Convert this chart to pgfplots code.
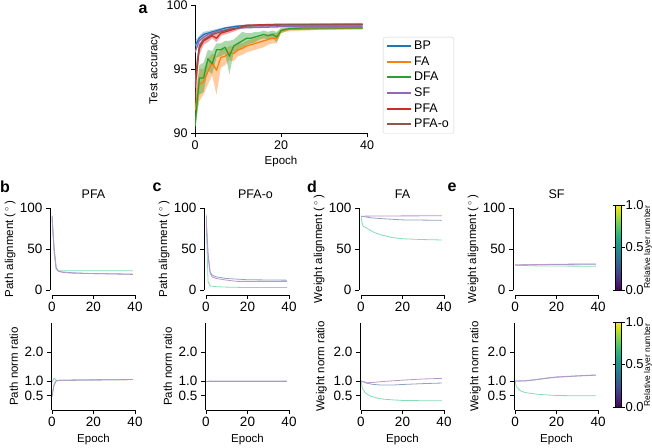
\documentclass[border=0pt]{standalone}
\usepackage{fontspec}
\setmainfont{Liberation Sans}
\usepackage{pgfplots}
\pgfplotsset{compat=1.18}
\pgfkeys{/pgf/number format/assume math mode=true}

\definecolor{cBP}{HTML}{1F77B4}
\definecolor{cFA}{HTML}{FF7F0E}
\definecolor{cDFA}{HTML}{2CA02C}
\definecolor{cSF}{HTML}{9467BD}
\definecolor{cPFA}{HTML}{D62728}
\definecolor{cPFAo}{HTML}{8C564B}
\definecolor{lpur}{RGB}{190,150,205}
\definecolor{lblu}{RGB}{140,165,195}
\definecolor{lgrn}{RGB}{130,220,180}

\newcommand{\fs}[1]{\fontsize{#1bp}{#1bp}\selectfont}

\pgfplotsset{
  panel/.style={
    scale only axis, anchor=south west,
    axis lines=left,
    axis line style={-, line width=0.9bp},
    every outer x axis line/.append style={-},
    every outer y axis line/.append style={-},
    tick align=outside, major tick length=4bp,
    every tick/.style={black, line width=0.9bp},
    tick label style={font=\fs{13.5}},
    label style={font=\fs{11.5}},
    title style={font=\fs{12.5}},
  },
  small/.style={panel, width=83bp, xmin=0, xmax=40, xtick={0,20,40},
    every axis plot/.append style={line width=0.8bp, line join=round}},
  toprow/.style={small, height=82bp, ymin=0, ymax=100, ytick={0,50,100},
    axis x line shift=5bp, axis y line shift=2bp, ylabel shift=-2.5bp},
  botrow/.style={small, height=87bp, ymin=0, ymax=3, ytick={0.5,1,2},
    yticklabel style={/pgf/number format/.cd, fixed, fixed zerofill, precision=1},
    axis y line shift=1bp, xlabel={Epoch}},
  cbar/.style={
    point meta min=0, point meta max=1, colormap/viridis, colorbar,
    colorbar style={
      at={(parent axis.south east)}, anchor=south west, xshift=9bp, yshift=#1,
      scale only axis, width=6bp, height=85bp,
      ytick={0,0.5,1},
      yticklabel style={font=\fs{13}, xshift=-2.5bp,
        /pgf/number format/.cd, fixed, fixed zerofill, precision=1},
      yticklabel pos=right,
      tick align=outside, major tick length=3bp,
      every tick/.style={black, line width=0.8bp},
      axis line style={line width=0.6bp},
    }},
}

\begin{document}
\begin{tikzpicture}
\useasboundingbox (0,0) rectangle (652bp,448bp);

% ---------- a: test accuracy ----------
\begin{axis}[panel, at={(195bp,315bp)}, width=172bp, height=128bp,
  xmin=0, xmax=40, ymin=90, ymax=100, xtick={0,20,40}, ytick={90,95,100},
  tick label style={font=\fs{12.5}},
  xlabel={Epoch}, ylabel={Test accuracy},
  every axis plot/.append style={line width=1.3bp, line join=round},
  legend cell align=left,
  legend style={at={(1.093,0.75)}, anchor=north west, draw=black!18,
    rounded corners=2bp, font=\fs{12.5}, row sep=1.5bp, inner xsep=3bp, inner ysep=2bp},
  legend image code/.code={\draw[#1, line width=2bp] (0bp,0bp) -- (24bp,0bp);},
]
% bands
\addplot[forget plot, draw=none, fill=cFA, fill opacity=0.4] coordinates {
  (0,93.0)(1,95.0)(2,95.0)(3,95.8)(4,96.2)(5,96.0)(6,96.6)(7,96.6)(8,96.8)(9,96.8)
  (10,97.0)(11,97.0)(12,97.2)(13,97.3)(14,97.4)(15,97.5)(16,97.6)(17,97.7)(18,97.8)(19,97.8)
  (20,98.1)(21,98.15)(22,98.2)(25,98.2)(30,98.25)(39,98.3)
  (39,98.1)(30,98.05)(25,98.0)(22,97.95)(21,97.9)(20,97.8)(19,97.0)(18,97.0)(17,96.9)(16,96.7)
  (15,96.6)(14,96.5)(13,96.4)(12,96.3)(11,96.1)(10,96.0)(9,95.6)(8,95.7)(7,95.3)(6,95.1)
  (5,93.0)(4,94.5)(3,93.8)(2,93.0)(1,92.5)(0,90.5)};
\addplot[forget plot, draw=none, fill=cDFA, fill opacity=0.4] coordinates {
  (0,92)(1,95.3)(2,95.5)(3,96.5)(4,96.4)(5,97.0)(6,97.0)(7,97.2)(8,97.2)(9,97.3)
  (10,97.6)(11,97.9)(12,97.8)(13,97.8)(14,97.9)(15,97.9)(16,98.0)(17,97.9)(18,98.0)(19,97.9)
  (20,98.2)(22,98.25)(25,98.3)(39,98.3)
  (39,98.1)(25,98.1)(22,98.05)(20,97.8)(19,97.1)(18,97.4)(17,97.3)(16,97.4)(15,97.3)(14,97.1)
  (13,97.0)(12,96.9)(11,96.6)(10,96.4)(9,96.3)(8,94.6)(7,96.2)(6,96.0)(5,95.9)(4,94.6)
  (3,94.9)(2,93.2)(1,93.0)(0,90)};
\addplot[forget plot, draw=none, fill=cPFA, fill opacity=0.4] coordinates {
  (0,95)(1,97.0)(2,97.5)(3,97.7)(4,97.8)(5,97.7)(6,98.0)(8,98.2)(10,98.35)(12,98.5)(39,98.6)
  (39,98.4)(12,98.3)(10,98.05)(8,97.8)(6,97.6)(5,97.1)(4,97.4)(3,97.1)(2,96.9)(1,96.1)(0,92)};
\addplot[forget plot, draw=none, fill=cBP, fill opacity=0.35] coordinates {
  (0,97.2)(1,97.6)(2,97.9)(4,98.05)(6,98.2)(8,98.35)(10,98.45)(39,98.55)
  (39,98.35)(10,98.25)(8,98.15)(6,98.0)(4,97.75)(2,97.5)(1,97.2)(0,96.4)};
% lines
\addplot[cBP] coordinates {(0,96.8)(1,97.4)(2,97.7)(3,97.8)(4,97.9)(5,98.0)(6,98.1)(7,98.2)(8,98.25)(9,98.3)(10,98.35)(12,98.4)(15,98.4)(20,98.45)(39,98.45)};
\addplot[cFA] coordinates {(0,91.8)(1,93.8)(2,94.0)(3,94.8)(4,95.5)(5,94.9)(6,95.9)(7,96.0)(8,96.3)(9,96.2)(10,96.5)(11,96.6)(12,96.8)(13,96.9)(14,97.0)(15,97.1)(16,97.2)(17,97.3)(18,97.4)(19,97.4)(20,98.0)(21,98.05)(22,98.1)(25,98.1)(30,98.15)(39,98.2)};
\addplot[cDFA] coordinates {(0,90.5)(1,94.3)(2,94.3)(3,95.8)(4,95.4)(5,96.5)(6,96.5)(7,96.7)(8,96.0)(9,96.8)(10,97.0)(11,97.2)(12,97.4)(13,97.4)(14,97.5)(15,97.6)(16,97.7)(17,97.6)(18,97.7)(19,97.5)(20,98.0)(21,98.1)(22,98.15)(25,98.2)(39,98.2)};
\addplot[cSF] coordinates {(0,96.3)(1,97.2)(2,97.5)(3,97.7)(4,97.8)(5,97.9)(6,98.0)(8,98.1)(10,98.2)(15,98.25)(20,98.3)(39,98.3)};
\addplot[cPFA] coordinates {(0,93.5)(1,96.6)(2,97.2)(3,97.4)(4,97.6)(5,97.4)(6,97.8)(7,97.9)(8,98.0)(9,98.1)(10,98.2)(11,98.3)(12,98.4)(15,98.45)(20,98.5)(39,98.5)};
\addplot[cPFAo] coordinates {(0,94.0)(1,96.8)(2,97.3)(3,97.5)(4,97.7)(5,97.8)(6,97.9)(8,98.1)(10,98.2)(12,98.35)(15,98.4)(20,98.45)(39,98.45)};
\legend{BP, FA, DFA, SF, PFA, PFA-o}
\end{axis}

% ---------- b: PFA ----------
\begin{axis}[toprow, at={(52bp,158bp)}, title={PFA}, ylabel={Path alignment (\,$^{\circ}$\,)}]
\addplot[lgrn] coordinates {(0,91)(1,45)(2,25)(3,23.5)(5,23.5)(10,23.5)(20,23.5)(39,23.5)};
\addplot[lblu] coordinates {(0,90)(1,50)(2,27)(3,23)(5,22)(10,21)(20,20)(39,19.5)};
\addplot[lpur] coordinates {(0,90)(1,52)(2,28)(3,23)(5,21.5)(10,20.5)(20,20)(39,19)};
\end{axis}
\begin{axis}[botrow, at={(52bp,38bp)}, ylabel={Path norm ratio}]
\addplot[lgrn] coordinates {(0,0.95)(1,1.1)(2,1.03)(5,1.02)(10,1.03)(20,1.04)(39,1.05)};
\addplot[lblu] coordinates {(0,0.45)(1,0.85)(2,1.0)(3,1.02)(10,1.03)(39,1.05)};
\addplot[lpur] coordinates {(0,0.5)(1,0.9)(2,1.0)(3,1.02)(10,1.03)(39,1.05)};
\end{axis}

% ---------- c: PFA-o ----------
\begin{axis}[toprow, at={(206bp,158bp)}, title={PFA-o}, title style={xshift=8bp},
  ylabel={Path alignment (\,$^{\circ}$\,)}]
\addplot[lgrn] coordinates {(0,91)(1,10)(2,5)(5,4)(10,3.5)(20,3)(39,3)};
\addplot[lblu] coordinates {(0,92)(1,45)(2,22)(3,18)(5,16)(10,14)(20,12.5)(39,12)};
\addplot[lpur] coordinates {(0,90)(1,40)(2,20)(3,16)(5,14)(10,12)(15,10.5)(20,10.5)(39,10.5)};
\end{axis}
\begin{axis}[botrow, at={(206bp,38bp)}, ylabel={Path norm ratio}]
\addplot[lgrn] coordinates {(0,1.0)(39,1.0)};
\addplot[lblu] coordinates {(0,1.0)(39,1.0)};
\addplot[lpur] coordinates {(0,0.97)(1,0.99)(2,1.0)(39,1.0)};
\end{axis}

% ---------- d: FA ----------
\begin{axis}[toprow, at={(361bp,158bp)}, title={FA}, ylabel={Weight alignment (\,$^{\circ}$\,)}]
\addplot[lgrn] coordinates {(0,90)(0.5,82)(1,78)(3,75)(5,72)(7,69.5)(10,67)(15,64)(20,62.5)(30,61.5)(39,61)};
\addplot[lblu] coordinates {(0,90)(5,88)(10,87)(20,85.5)(39,85)};
\addplot[lpur] coordinates {(0,90)(10,90.3)(39,90.5)};
\end{axis}
\begin{axis}[botrow, at={(361bp,38bp)}, ylabel={Weight norm ratio}]
\addplot[lgrn] coordinates {(0,1.0)(0.5,0.8)(1,0.7)(2,0.6)(3,0.54)(5,0.47)(8,0.41)(10,0.38)(15,0.35)(20,0.33)(30,0.32)(39,0.32)};
\addplot[lblu] coordinates {(0,1.0)(3,0.92)(6,0.88)(10,0.86)(15,0.86)(20,0.88)(30,0.91)(39,0.93)};
\addplot[lpur] coordinates {(0,1.0)(3,0.94)(6,0.95)(10,0.98)(20,1.03)(30,1.07)(39,1.09)};
\end{axis}

% ---------- e: SF ----------
\begin{axis}[toprow, at={(515bp,158bp)}, title={SF}, ylabel={Weight alignment (\,$^{\circ}$\,)},
  cbar=0bp]
\addplot[lgrn] coordinates {(0,30.5)(5,29.8)(10,29.4)(20,29.2)(39,29)};
\addplot[lblu] coordinates {(0,30.5)(10,30.8)(20,31.1)(39,31.5)};
\addplot[lpur] coordinates {(0,30.5)(10,31)(20,31.4)(39,31.8)};
\end{axis}
\begin{axis}[botrow, at={(515bp,38bp)}, ylabel={Weight norm ratio}, cbar=3bp]
\addplot[lgrn] coordinates {(0,1.0)(0.5,0.85)(1,0.78)(2,0.7)(3,0.65)(5,0.6)(8,0.57)(10,0.55)(15,0.52)(20,0.5)(30,0.49)(39,0.49)};
\addplot[lblu] coordinates {(0,1.0)(5,1.0)(10,1.04)(15,1.09)(20,1.13)(30,1.17)(39,1.2)};
\addplot[lpur] coordinates {(0,1.0)(5,1.01)(10,1.05)(15,1.1)(20,1.14)(30,1.18)(39,1.21)};
\end{axis}

% colorbar labels
\node[rotate=90, font=\fs{8.5}, inner sep=0pt] at (648bp,201bp) {Relative layer number};
\node[rotate=90, font=\fs{8.5}, inner sep=0pt] at (648bp,83bp) {Relative layer number};

% panel letters
\begin{scope}[every node/.style={font=\bfseries\fs{16}}]
\node at (143bp,439bp) {a};
\node at (5bp,261bp) {b};
\node at (157bp,261bp) {c};
\node at (312bp,261bp) {d};
\node at (452bp,261bp) {e};
\end{scope}
\end{tikzpicture}
\end{document}
